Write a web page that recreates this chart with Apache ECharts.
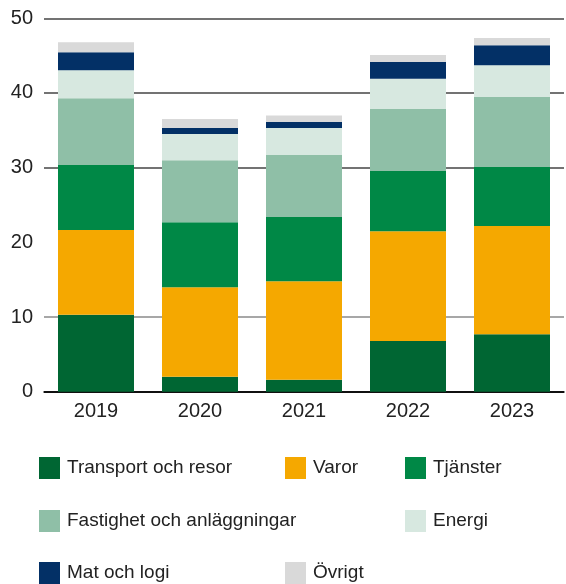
<!DOCTYPE html>
<html>
<head>
<meta charset="utf-8">
<script src="https://cdn.jsdelivr.net/npm/echarts@6/dist/echarts.min.js"></script>
<style>
html,body{margin:0;padding:0;background:#fff;}
#chart{width:566px;height:584px;}
</style>
</head>
<body>
<div id="chart"></div>
<script>
const years = ['2019', '2020', '2021', '2022', '2023'];
const transport = [10.3, 2.0, 1.6, 6.8, 7.7];
const varor = [11.35, 12.0, 13.2, 14.7, 14.5];
const tjanster = [8.7, 8.7, 8.6, 8.05, 7.9];
const fastighet = [8.95, 8.3, 8.3, 8.3, 9.35];
const energi = [3.75, 3.5, 3.6, 4.05, 4.25];
const mat = [2.4, 0.8, 0.8, 2.25, 2.7];
const ovrigt = [1.35, 1.2, 0.9, 0.95, 0.95];
const yTicks = [0, 10, 20, 30, 40, 50];

const seriesNames = ['Transport och resor', 'Varor', 'Tjänster', 'Fastighet och anläggningar', 'Energi', 'Mat och logi', 'Övrigt'];
const seriesData = [transport, varor, tjanster, fastighet, energi, mat, ovrigt];
const colors = ['#006633', '#F5A800', '#008846', '#8FBFA7', '#D7E8E0', '#033066', '#D9D9D9'];

const legendPos = [
  [39, 457], [285, 457], [405, 457],
  [39, 510], [405, 510],
  [39, 562], [285, 562]
];

const chart = echarts.init(document.getElementById('chart'), null, {renderer: 'canvas'});
const font = '"Liberation Sans", Arial, sans-serif';

chart.setOption({
  animation: false,
  color: colors,
  textStyle: {fontFamily: font},
  grid: {left: 44, right: 2, top: 18.3, height: 373.4, containLabel: false},
  legend: seriesNames.map((n, i) => ({
    data: [n],
    left: legendPos[i][0],
    top: legendPos[i][1],
    padding: 0,
    icon: 'rect',
    itemWidth: 21,
    itemHeight: 22,
    selectedMode: false,
    textStyle: {fontSize: 19, color: '#222', fontFamily: font, padding: [0, 0, 0, 2]}
  })),
  xAxis: {
    type: 'category',
    data: years,
    axisTick: {show: false},
    axisLine: {show: true, lineStyle: {color: '#000', width: 1.5}},
    axisLabel: {fontSize: 20, color: '#222', margin: 10, fontFamily: font}
  },
  yAxis: {
    type: 'value',
    min: yTicks[0],
    max: yTicks[yTicks.length - 1],
    interval: 10,
    axisLine: {show: false},
    axisTick: {show: false},
    axisLabel: {fontSize: 20, color: '#222', margin: 11, fontFamily: font},
    splitLine: {show: true, lineStyle: {color: ['#000', '#8a8a8a', 'rgba(0,0,0,0)', '#444', '#444', '#444'], width: 1.6}}
  },
  series: seriesNames.map((n, i) => ({
    name: n,
    type: 'bar',
    stack: 'total',
    barWidth: 76,
    data: seriesData[i],
    itemStyle: {color: colors[i]}
  }))
});
</script>
</body>
</html>
